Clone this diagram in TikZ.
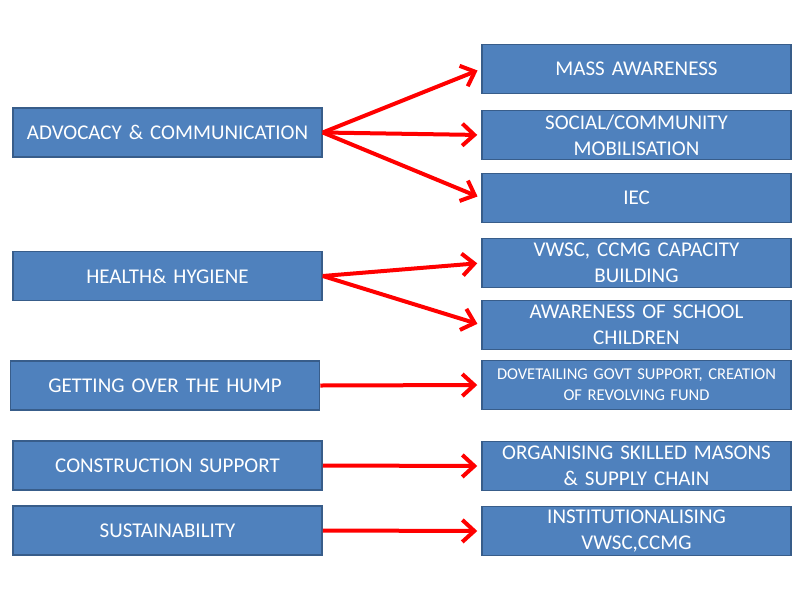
\documentclass[tikz,border=0pt]{standalone}
\usepackage{fontspec}
\setmainfont{Carlito}
\usetikzlibrary{arrows.meta}
\definecolor{boxfill}{HTML}{4F81BD}
\definecolor{boxdraw}{HTML}{385D8A}
\begin{document}
\begin{tikzpicture}[x=1pt,y=-1pt,
  box/.style={draw=boxdraw,line width=1.5pt,fill=boxfill,text=white,inner sep=0pt,
    minimum width=309pt,minimum height=49pt,text width=305pt,align=center,
    font=\fontsize{21}{26}\selectfont},
  small/.style={font=\fontsize{16.5}{21}\selectfont},
  arr/.style={draw=red,line width=4pt,-{Straight Barb[length=12pt,width=22pt,line width=4pt]},shorten >=4pt}]
\useasboundingbox (0,0) rectangle (800,600);
\node[box] (a) at (167.5,132.5) {ADVOCACY \& COMMUNICATION};
\node[box] (h) at (167.5,276) {HEALTH\& HYGIENE};
\node[box] (g) at (165,385.5) {GETTING OVER THE HUMP};
\node[box] (c) at (167.5,465.5) {CONSTRUCTION SUPPORT};
\node[box] (s) at (167.5,530.5) {SUSTAINABILITY};
\node[box] (r1) at (636.5,69) {MASS AWARENESS};
\node[box] (r2) at (636.5,135) {SOCIAL/COMMUNITY\\MOBILISATION};
\node[box] (r3) at (636.5,198) {IEC};
\node[box] (r4) at (636.5,263) {VWSC, CCMG CAPACITY\\BUILDING};
\node[box] (r5) at (636.5,325) {AWARENESS OF SCHOOL\\CHILDREN};
\node[box,small] (r6) at (636.5,385) {DOVETAILING GOVT SUPPORT, CREATION\\OF REVOLVING FUND};
\node[box] (r7) at (636.5,466) {ORGANISING SKILLED MASONS\\\& SUPPLY CHAIN};
\node[box] (r8) at (636.5,531) {INSTITUTIONALISING\\VWSC,CCMG};
\draw[arr] (a.east) -- (r1.west);
\draw[arr] (a.east) -- (r2.west);
\draw[arr] (a.east) -- (r3.west);
\draw[arr] (h.east) -- (r4.west);
\draw[arr] (h.east) -- (r5.west);
\draw[arr] (g.east) -- (r6.west);
\draw[arr] (c.east) -- (r7.west);
\draw[arr] (s.east) -- (r8.west);
\end{tikzpicture}
\end{document}
